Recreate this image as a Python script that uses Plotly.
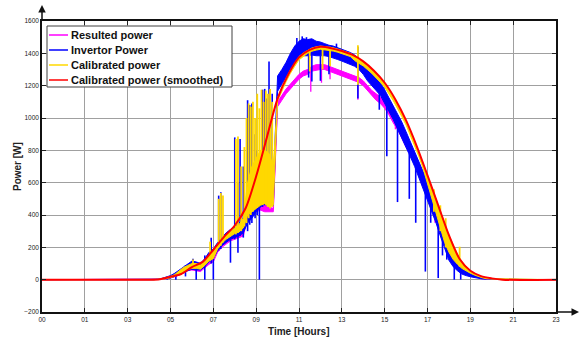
import plotly.graph_objects as go

# ---------------- data ----------------
hours = [0.0,
         5.0, 5.2, 5.4, 5.6, 5.8, 6.0, 6.2, 6.4, 6.6, 6.8,
         7.0, 7.2, 7.4, 7.6, 7.8, 8.0, 8.2, 8.4, 8.6, 8.8,
         9.0, 9.2, 9.4, 9.6, 9.8, 10.0, 10.2, 10.4, 10.6, 10.8,
         11.0, 11.2, 11.4, 11.6, 11.8, 12.0, 12.2, 12.4, 12.6, 12.8,
         13.0, 13.2, 13.4, 13.6, 13.8, 14.0, 14.2, 14.4, 14.6, 14.8,
         15.0, 15.2, 15.4, 15.6, 15.8, 16.0, 16.2, 16.4, 16.6, 16.8,
         17.0, 17.2, 17.4, 17.6, 17.8, 18.0, 18.2, 18.4, 18.6, 18.8,
         19.0, 19.2, 19.4, 19.6, 19.8, 20.0, 20.2, 20.4, 20.6, 20.8,
         21.0, 24.0]

# Invertor power: upper / lower edge of the dense band
invertor_upper = [0,
    0, 0, 3, 8, 15, 25, 40, 60, 80, 95,
    115, 110, 100, 130, 170, 190, 230, 260, 290, 310,
    330, 350, 380, 450, 520, 560, 600, 620, 620, 600,
    1260, 1300, 1345, 1400, 1445, 1475, 1490, 1485, 1490, 1475,
    1470, 1460, 1450, 1445, 1435, 1425, 1415, 1405, 1390, 1365,
    1335, 1305, 1275, 1250, 1220, 1175, 1125, 1075, 1025, 975,
    915, 855, 795, 735, 675, 605, 535, 465, 395, 315,
    245, 178, 125, 90, 65, 45, 30, 20, 12, 6,
    2, 0]
invertor_lower = [0,
    0, 0, 0, 3, 6, 10, 20, 30, 45, 55,
    65, 60, 60, 80, 110, 130, 180, 210, 230, 250,
    260, 270, 290, 350, 380, 420, 450, 470, 470, 460,
    1165, 1210, 1255, 1300, 1335, 1365, 1385, 1385, 1390, 1385,
    1385, 1385, 1380, 1372, 1362, 1352, 1342, 1332, 1320, 1300,
    1270, 1230, 1200, 1170, 1140, 1090, 1040, 990, 940, 880,
    820, 760, 700, 640, 570, 500, 420, 350, 270, 190,
    120, 80, 55, 35, 25, 18, 12, 8, 4, 2,
    0, 0]
invertor_spike_hours = [5.85, 6.25, 6.7, 7.05, 7.2, 7.6, 7.9, 8.0, 8.25, 8.35,
                        8.8, 9.0, 9.15, 9.25, 9.4, 9.6, 9.7, 9.8, 9.95, 10.05,
                        10.15, 10.3, 10.4, 10.5, 10.6, 10.75, 11.9, 12.15, 12.35, 12.45,
                        12.6, 13.0, 13.4, 13.75, 14.75, 15.75, 16.1, 16.6, 17.15, 17.45,
                        17.9, 18.15, 18.5, 18.7, 18.9, 19.25, 19.55]
invertor_spike_low = [0, 0, 20, 60, 0, 0, 100, 0, 180, 190,
                      105, 250, 167, 270, 260, 300, 340, 350, 380, 400,
                      0, 450, 460, 460, 476, 476, 1380, 1400, 1410, 1250,
                      1225, 1230, 1270, 1380, 1120, 1051, 763, 480, 500, 352,
                      50, 352, 10, 150, 124, 0, 0]
invertor_spike_high = [15, 45, 90, 130, 110, 150, 260, 190, 520, 540,
                       310, 880, 600, 870, 700, 1110, 1080, 1090, 900, 800,
                       620, 1175, 1180, 1120, 1350, 1150, 1495, 1505, 1500, 1390,
                       1390, 1385, 1380, 1460, 1440, 1150, 1100, 950, 780, 710,
                       550, 450, 400, 300, 220, 100, 50]

# Calibrated power
calibrated_upper = [0,
    0, 0, 2, 6, 12, 20, 32, 55, 75, 88,
    100, 100, 90, 120, 150, 175, 220, 250, 280, 300,
    320, 340, 380, 600, 700, 750, 800, 800, 780, 700,
    1125, 1190, 1245, 1297, 1340, 1380, 1402, 1420, 1433, 1440,
    1445, 1442, 1439, 1434, 1427, 1419, 1410, 1400, 1383, 1366,
    1350, 1327, 1304, 1278, 1248, 1218, 1177, 1136, 1089, 1037,
    985, 921, 857, 789, 717, 645, 571, 497, 423, 349,
    275, 216, 157, 113, 84, 55, 38, 25, 15, 10,
    5, 0]
calibrated_lower = [0,
    0, 0, 0, 3, 6, 12, 20, 35, 50, 62,
    70, 70, 65, 88, 115, 130, 190, 225, 250, 270,
    285, 295, 320, 400, 420, 440, 460, 470, 450, 460,
    1105, 1170, 1225, 1277, 1320, 1360, 1382, 1400, 1413, 1420,
    1425, 1422, 1419, 1414, 1407, 1399, 1390, 1380, 1355, 1338,
    1322, 1299, 1276, 1250, 1220, 1190, 1149, 1108, 1061, 1009,
    957, 893, 829, 761, 685, 600, 500, 410, 320, 230,
    170, 125, 95, 70, 55, 40, 28, 17, 10, 5,
    2, 0]
calibrated_spike_hours = [7.05, 7.85, 8.25, 8.35, 8.45, 9.05, 9.15, 9.3, 9.45, 9.55,
                          9.65, 9.75, 9.85, 9.95, 10.05, 10.15, 10.25, 10.35, 10.45, 10.55,
                          10.65, 10.75, 12.5, 13.1, 13.45, 14.75, 18.3, 18.6, 18.85, 19.5]
calibrated_spike_low = [70, 120, 200, 210, 230, 280, 290, 300, 330, 350,
                        380, 400, 420, 440, 450, 460, 470, 470, 470, 450,
                        440, 450, 1288, 1300, 1320, 1206, 420, 300, 200, 80]
calibrated_spike_high = [125, 235, 500, 536, 520, 870, 885, 700, 820, 1000,
                         1090, 1070, 1100, 1000, 1150, 1060, 1175, 1100, 1170, 1150,
                         1180, 1100, 1420, 1440, 1440, 1450, 560, 460, 380, 204]

# Resulted power
resulted_upper = [0,
    0, 0, 0, 4, 8, 15, 25, 45, 60, 70,
    85, 80, 70, 100, 130, 150, 210, 240, 260, 290,
    290, 300, 320, 420, 460, 470, 480, 470, 450, 440,
    1100, 1140, 1180, 1210, 1240, 1270, 1290, 1300, 1320, 1330,
    1330, 1330, 1320, 1310, 1300, 1290, 1280, 1270, 1260, 1250,
    1230, 1200, 1170, 1150, 1130, 1100, 1070, 1020, 980, 940,
    880, 830, 780, 720, 650, 590, 510, 440, 370, 300,
    230, 160, 110, 80, 60, 40, 28, 18, 10, 5,
    2, 0]
resulted_lower = [0,
    0, 0, 0, 2, 5, 10, 18, 28, 40, 55,
    60, 55, 50, 75, 95, 110, 170, 200, 220, 240,
    250, 260, 270, 380, 400, 420, 430, 420, 420, 420,
    1070, 1110, 1150, 1180, 1210, 1240, 1260, 1270, 1290, 1295,
    1300, 1300, 1290, 1280, 1270, 1260, 1250, 1240, 1230, 1220,
    1200, 1170, 1140, 1110, 1090, 1060, 1020, 970, 930, 880,
    820, 770, 720, 650, 600, 540, 450, 380, 310, 220,
    150, 110, 70, 50, 40, 25, 18, 10, 5, 2,
    0, 0]
resulted_spike_hours = [12.55, 13.05, 13.45, 14.75, 16.5, 18.35]
resulted_spike_low = [1163, 1218, 1240, 1113, 930, 352]
resulted_spike_high = [1300, 1320, 1320, 1250, 1000, 440]

# Calibrated power (smoothed)
smooth_hours = [0, 5.0, 5.5, 6.0, 6.5, 7.0, 7.5, 8.0, 8.5, 9.0, 9.5, 10.0,
                10.5, 11.0, 11.5, 12.0, 12.5, 13.0, 13.5, 14.0, 14.5, 15.0,
                15.5, 16.0, 16.5, 17.0, 17.5, 18.0, 18.5, 19.0, 19.5, 20.0,
                20.5, 21.0, 21.5, 24]
smooth_power = [0, 0, 3, 18, 35, 78, 110, 185, 265, 335, 440, 640,
                880, 1120, 1270, 1375, 1422, 1440, 1432, 1414, 1390, 1350,
                1292, 1218, 1115, 985, 825, 645, 460, 275, 128, 55,
                22, 8, 0, 0]

legend_labels = ["Resulted power", "Invertor Power", "Calibrated power",
                 "Calibrated power (smoothed)"]
colors = ["#FF00FF", "#0000FF", "#FFD800", "#FF0000"]

x_tick_vals = [0, 2, 4, 6, 8, 10, 12, 14, 16, 18, 20, 22, 24]
x_tick_text = ["00", "01", "03", "05", "07", "09", "11", "13", "15", "17", "19", "21", "23"]
y_tick_vals = [-200, 0, 200, 400, 600, 800, 1000, 1200, 1400, 1600]

FONT = "Arial, Liberation Sans, sans-serif"
fig = go.Figure()

groups = [
    (resulted_upper, resulted_lower, resulted_spike_hours, resulted_spike_low, resulted_spike_high, 1.3),
    (invertor_upper, invertor_lower, invertor_spike_hours, invertor_spike_low, invertor_spike_high, 1.6),
    (calibrated_upper, calibrated_lower, calibrated_spike_hours, calibrated_spike_low, calibrated_spike_high, 1.8),
]
for (up, lo, sh, sl, shi, sw), name, col in zip(groups, legend_labels[:3], colors[:3]):
    fig.add_trace(go.Scatter(x=hours + hours[::-1], y=up + lo[::-1], mode="lines",
                             fill="toself", fillcolor=col, name=name,
                             line=dict(color=col, width=1), showlegend=False,
                             hoverinfo="skip"))
    sx, sy = [], []
    for h, a, b in zip(sh, sl, shi):
        sx += [h, h, None]
        sy += [a, b, None]
    fig.add_trace(go.Scatter(x=sx, y=sy, mode="lines", name=name,
                             line=dict(color=col, width=sw), showlegend=False))

fig.add_trace(go.Scatter(x=smooth_hours, y=smooth_power, mode="lines",
                         name=legend_labels[3],
                         line=dict(color=colors[3], width=2, shape="spline", smoothing=0.8),
                         showlegend=False))

# ---- manual legend (compact, like the original) ----
L, PW, T, PH = 42, 514, 21, 291
def px(x):
    return (x - L) / PW
def py(y):
    return (T + PH - y) / PH

shapes = [dict(type="rect", xref="paper", yref="paper",
               x0=px(47), x1=px(232), y0=py(87), y1=py(26),
               line=dict(color="#404040", width=1), fillcolor="white", layer="above")]
annotations = []
rows = [35, 50, 65, 80]
for lab, col, r in zip(legend_labels, colors, rows):
    shapes.append(dict(type="line", xref="paper", yref="paper",
                       x0=px(49), x1=px(68), y0=py(r), y1=py(r),
                       line=dict(color=col, width=1.5), layer="above"))
    annotations.append(dict(xref="paper", yref="paper", x=px(69), y=py(r),
                            xanchor="left", yanchor="middle", showarrow=False,
                            text="<b>%s</b>" % lab,
                            font=dict(family=FONT, size=11, color="#111")))

annotations.append(dict(xref="paper", yref="paper", x=0.5, y=py(331),
                        xanchor="center", yanchor="middle", showarrow=False,
                        text="<b>Time [Hours]</b>",
                        font=dict(family=FONT, size=10, color="#222")))
annotations.append(dict(xref="paper", yref="paper", x=px(17), y=py(167),
                        xanchor="center", yanchor="middle", showarrow=False,
                        textangle=-90, text="<b>Power [W]</b>",
                        font=dict(family=FONT, size=10, color="#222")))
annotations.append(dict(xref="paper", yref="paper", x=0, y=py(5), ax=0, ay=16,
                        text="", showarrow=True, arrowhead=2, arrowsize=1,
                        arrowwidth=1.5, arrowcolor="#111"))
annotations.append(dict(xref="paper", yref="paper", x=px(579), y=0, ax=-23, ay=0,
                        text="", showarrow=True, arrowhead=2, arrowsize=1,
                        arrowwidth=1.5, arrowcolor="#111"))

axis_common = dict(showgrid=True, gridcolor="#a0a0a0", gridwidth=1,
                   showline=True, linecolor="#111", linewidth=1.5, mirror="ticks",
                   ticks="inside", ticklen=4, tickcolor="#222",
                   tickfont=dict(family=FONT, size=6.5, color="#222"),
                   zeroline=False)

fig.update_layout(
    width=587, height=341,
    margin=dict(l=L, r=587 - 556, t=T, b=341 - 312),
    paper_bgcolor="white", plot_bgcolor="white",
    xaxis=dict(range=[0, 24], tickvals=x_tick_vals, ticktext=x_tick_text, **axis_common),
    yaxis=dict(range=[-200, 1600], tickvals=y_tick_vals, **axis_common),
    shapes=shapes, annotations=annotations, showlegend=False,
)

fig.write_html("out.html", config={"displayModeBar": False},
               post_script="document.body.style.margin='0px';")
